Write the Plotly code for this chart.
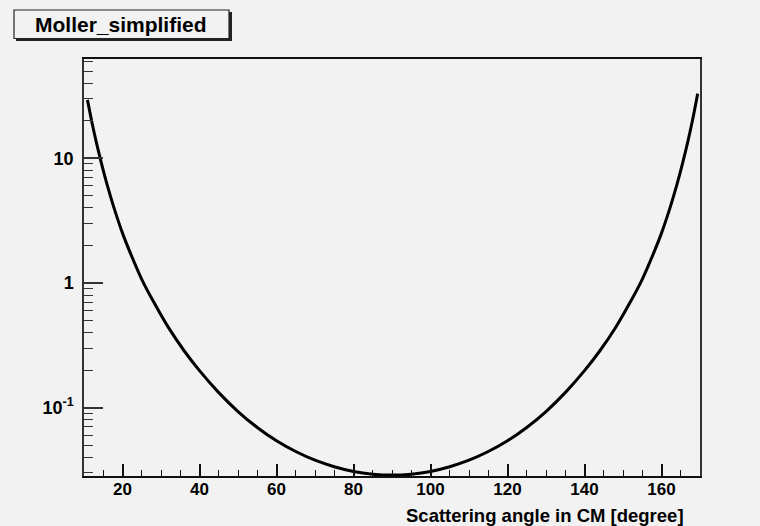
import plotly.graph_objects as go

# Scattering angle in CM [degree] and the cross-section values
theta = [10.9, 12, 13, 14, 15, 16, 18, 20, 22, 25, 28, 32, 36, 40, 45, 50, 55, 60, 65, 70,
         75, 80, 85, 90, 95, 100, 105, 110, 115, 120, 125, 130, 135, 140, 144, 148, 152,
         155, 158, 160, 162, 164, 165, 166, 167, 168, 169, 169.4]
value = [29.4, 19.8, 14.3, 10.6, 7.98, 6.15, 3.82, 2.51, 1.75, 1.07, 0.713, 0.436, 0.286,
         0.198, 0.132, 0.0931, 0.0694, 0.0543, 0.0445, 0.0379, 0.0336, 0.0308, 0.0293,
         0.0288, 0.0293, 0.0308, 0.0336, 0.0379, 0.0445, 0.0543, 0.0694, 0.0931, 0.132,
         0.198, 0.286, 0.436, 0.713, 1.07, 1.75, 2.51, 3.82, 6.15, 7.98, 10.6, 14.3,
         19.8, 28.4, 33.0]

x_ticks = [20, 40, 60, 80, 100, 120, 140, 160]
y_ticks = [0.1, 1, 10]
y_tick_text = ["10<sup>-1</sup>", "1", "10"]
y_minor = [0.03, 0.04, 0.05, 0.06, 0.07, 0.08, 0.09,
           0.2, 0.3, 0.4, 0.5, 0.6, 0.7, 0.8, 0.9,
           2, 3, 4, 5, 6, 7, 8, 9, 20, 30, 40, 50, 60]
x_minor = [v for v in range(15, 170, 5)]

title_text = "Moller_simplified"
x_title = "Scattering angle in CM [degree]"

BG = "#f2f2f2"
FONT = "Liberation Sans, Arial, sans-serif"

fig = go.Figure()
fig.add_trace(go.Scatter(x=theta, y=value, mode="lines",
                         line=dict(color="black", width=3, shape="spline", smoothing=0.8),
                         showlegend=False, hoverinfo="skip"))

W, H = 760, 526
L, R, T, B = 84, 700, 59, 476

fig.update_layout(
    width=W, height=H,
    margin=dict(l=L, r=W - R, t=T, b=H - B, pad=0),
    paper_bgcolor=BG, plot_bgcolor=BG,
    font=dict(family=FONT, color="black"),
    xaxis=dict(range=[10, 170], tickvals=x_ticks, ticks="inside", ticklen=12,
               tickwidth=1.5, tickcolor="#111", showgrid=False, zeroline=False,
               showline=True, linecolor="#111", linewidth=1.5, mirror=True,
               tickfont=dict(size=17, family=FONT, weight="bold"),
               ticklabelstandoff=-3,
               minor=dict(tickvals=x_minor, ticks="inside", ticklen=6,
                          tickcolor="#111", tickwidth=1, showgrid=False)),
    yaxis=dict(type="log", range=[-1.548, 1.796], tickvals=y_ticks, ticktext=y_tick_text,
               ticks="inside", ticklen=19, tickwidth=1.5, tickcolor="#333",
               showgrid=False, zeroline=False, showline=True, linecolor="#333",
               linewidth=1.5, mirror=True,
               tickfont=dict(size=18, family=FONT, weight="bold"),
               ticklabelstandoff=5,
               minor=dict(tickvals=y_minor, ticks="inside", ticklen=9,
                          tickcolor="#333", tickwidth=1.2, showgrid=False)),
)

# title box with ROOT-like shadow
fig.add_shape(type="rect", xref="paper", yref="paper",
              x0=(16 - L) / (R - L), x1=(232 - L) / (R - L),
              y0=(B - 41) / (B - T), y1=(B - 12) / (B - T),
              fillcolor="#222", line=dict(width=0), layer="above")
fig.add_shape(type="rect", xref="paper", yref="paper",
              x0=(14 - L) / (R - L), x1=(229 - L) / (R - L),
              y0=(B - 38.5) / (B - T), y1=(B - 10) / (B - T),
              fillcolor=BG, line=dict(color="#222", width=1.2), layer="above")
fig.add_annotation(text=f"<b>{title_text}</b>", xref="paper", yref="paper",
                   x=(121 - L) / (R - L), y=(B - 24) / (B - T),
                   xanchor="center", yanchor="middle", showarrow=False,
                   font=dict(size=21, family=FONT, color="black"))

fig.add_annotation(text=f"<b>{x_title}</b>", xref="paper", yref="paper",
                   x=(686 - L) / (R - L), y=(B - 515) / (B - T),
                   xanchor="right", yanchor="middle", showarrow=False,
                   font=dict(size=18.5, family=FONT, color="black"))

fig.write_html("out.html", config={"displayModeBar": False},
               post_script="document.body.style.margin='0';"
                           "document.body.style.background='" + BG + "';")
